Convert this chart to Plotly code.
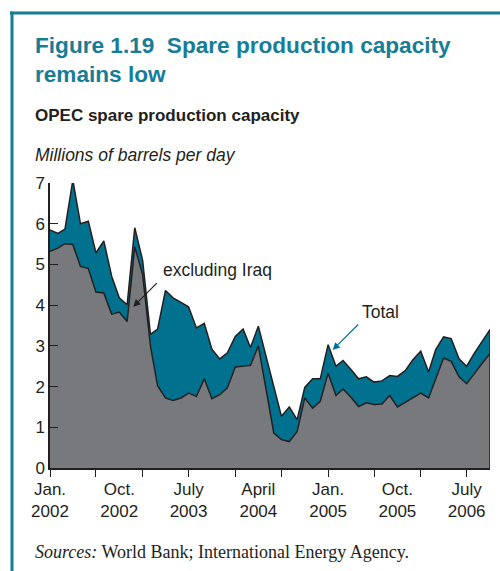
import plotly.graph_objects as go
import pandas as pd

months = pd.date_range("2002-01-01", "2006-10-01", freq="MS").strftime("%Y-%m-%d").tolist()

total = [5.85, 5.76, 5.87, 7.07, 6.00, 6.06, 5.28, 5.58, 4.71, 4.18, 4.01, 5.90,
         5.10, 3.28, 3.41, 4.36, 4.18, 4.07, 3.96, 3.44, 3.55, 2.92, 2.68, 2.83,
         3.23, 3.41, 2.96, 3.48, 2.75, 2.03, 1.27, 1.50, 1.19, 1.98, 2.19, 2.19,
         3.03, 2.50, 2.64, 2.42, 2.19, 2.24, 2.11, 2.14, 2.27, 2.25, 2.39, 2.66,
         2.87, 2.36, 2.91, 3.22, 3.18, 2.68, 2.50, 2.83, 3.11, 3.40]

excl_iraq = [5.32, 5.40, 5.51, 5.49, 4.95, 4.90, 4.32, 4.30, 3.78, 3.83, 3.60, 5.43,
             4.75, 2.99, 2.02, 1.72, 1.66, 1.72, 1.84, 1.76, 2.19, 1.70, 1.80, 1.97,
             2.48, 2.50, 2.52, 3.00, 1.95, 0.86, 0.70, 0.65, 0.90, 1.72, 1.47, 1.64,
             2.33, 1.78, 1.94, 1.74, 1.51, 1.60, 1.56, 1.57, 1.78, 1.50, 1.61, 1.72,
             1.84, 1.72, 2.21, 2.70, 2.62, 2.24, 2.07, 2.33, 2.58, 2.81]

label_dates = ["2002-01-01", "2002-10-01", "2003-07-01", "2004-04-01",
               "2005-01-01", "2005-10-01", "2006-07-01"]
label_texts = ["Jan.<br>2002", "Oct.<br>2002", "July<br>2003", "April<br>2004",
               "Jan.<br>2005", "Oct.<br>2005", "July<br>2006"]
tick_dates = pd.date_range("2002-01-01", "2006-07-01", freq="6MS").strftime("%Y-%m-%d").tolist()

TEAL = "#00728f"
FRAME = "#167d97"
GRAY = "#78797c"
INK = "#231f20"
SANS = "Liberation Sans, Arial, sans-serif"

L, R, T, B = 50, 10, 183, 103
W, H = 500, 571
PW, PH = W - L - R, H - T - B


def px(x):
    return (x - L) / PW


def py(y):
    return (H - B - y) / PH


fig = go.Figure()
fig.add_trace(go.Scatter(x=months, y=excl_iraq, mode="lines", fill="tozeroy",
                         fillcolor=GRAY, line=dict(color=INK, width=1.5),
                         hoverinfo="skip", showlegend=False))
fig.add_trace(go.Scatter(x=months, y=total, mode="lines", fill="tonexty",
                         fillcolor=TEAL, line=dict(color=INK, width=1.5),
                         hoverinfo="skip", showlegend=False))
# right edge outline of the filled area
fig.add_trace(go.Scatter(x=[months[-1], months[-1]], y=[0, total[-1]], mode="lines",
                         line=dict(color=INK, width=1.5), hoverinfo="skip", showlegend=False))

fig.update_layout(
    width=W, height=H,
    margin=dict(l=L, r=R, t=T, b=B),
    paper_bgcolor="white", plot_bgcolor="white",
    font=dict(family=SANS, color=INK, size=17),
    xaxis=dict(type="date", range=[months[0], months[-1]],
               tickvals=label_dates, ticktext=label_texts, ticks="",
               ticklabelstandoff=5,
               showline=True, linecolor=INK, linewidth=1.5, showgrid=False, zeroline=False,
               tickfont=dict(size=17, color=INK),
               minor=dict(tickvals=tick_dates, ticks="outside", ticklen=7,
                          tickcolor=INK, tickwidth=1.2, showgrid=False)),
    yaxis=dict(range=[0, 7], tickvals=list(range(0, 8)), ticks="inside", ticklen=8,
               tickcolor=INK, tickwidth=1.2, showline=True, linecolor=INK, linewidth=1.5,
               showgrid=False, zeroline=False, tickfont=dict(size=17, color=INK)),
)

ann = []
ann.append(dict(text="<b>Figure 1.19  Spare production capacity</b>", x=px(33), y=py(45),
                font=dict(size=22.6, color=FRAME, family=SANS)))
ann.append(dict(text="<b>remains low</b>", x=px(33), y=py(75),
                font=dict(size=22.6, color=FRAME, family=SANS)))
ann.append(dict(text="<b>OPEC spare production capacity</b>", x=px(33), y=py(116),
                font=dict(size=17, color=INK, family=SANS)))
ann.append(dict(text="<i>Millions of barrels per day</i>", x=px(33), y=py(155),
                font=dict(size=17.5, color=INK, family=SANS)))
ann.append(dict(text="<i>Sources:</i> World Bank; International Energy Agency.", x=px(33), y=py(552),
                font=dict(size=18, color=INK, family="Liberation Serif, Times New Roman, serif")))
ann.append(dict(text="excluding Iraq", x=px(161), y=py(270), font=dict(size=17.5, color=INK, family=SANS)))
ann.append(dict(text="Total", x=px(360), y=py(312), font=dict(size=17.5, color=INK, family=SANS)))
for a in ann:
    a.update(xref="paper", yref="paper", xanchor="left", yanchor="middle", showarrow=False)

ann.append(dict(x=px(133.3), y=py(306.7), xref="paper", yref="paper", text="", showarrow=True,
                ax=25, ay=-25, arrowhead=2, arrowsize=1.2, arrowwidth=1.2, arrowcolor=INK))
ann.append(dict(x=px(332.7), y=py(350), xref="paper", yref="paper", text="", showarrow=True,
                ax=27, ay=-27, arrowhead=2, arrowsize=1.2, arrowwidth=1.2, arrowcolor=TEAL))
fig.update_layout(annotations=ann)

fig.update_layout(shapes=[
    dict(type="line", xref="paper", yref="paper", x0=px(10), x1=px(500), y0=py(13), y1=py(13),
         line=dict(color=FRAME, width=3)),
    dict(type="line", xref="paper", yref="paper", x0=px(12), x1=px(12), y0=py(11.5), y1=py(571),
         line=dict(color=FRAME, width=3)),
])

fig.write_html("out.html", config={"displayModeBar": False},
               post_script="document.body.style.margin='0';")
